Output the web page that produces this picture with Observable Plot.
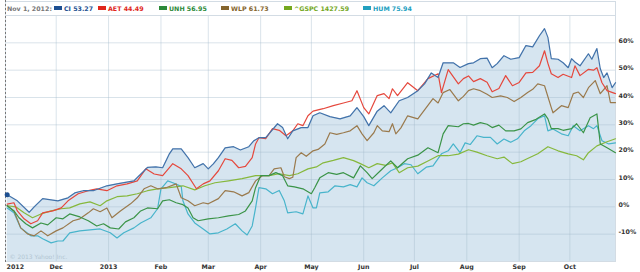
<!DOCTYPE html>
<html><head><meta charset="utf-8">
<script src="https://cdn.jsdelivr.net/npm/d3@7"></script>
<script src="https://cdn.jsdelivr.net/npm/@observablehq/plot@0.6"></script>
<style>
html,body{margin:0;padding:0;background:#fff;}
#wrap{position:relative;width:640px;height:272px;overflow:hidden;font-family:"DejaVu Sans",Verdana,sans-serif;}
#legend{position:absolute;top:3px;left:0;height:11px;width:615px;font-size:6.3px;font-weight:bold;line-height:11px;}
#legend span.item{position:absolute;top:0;white-space:nowrap;}
#legend i{display:inline-block;width:8px;height:4px;margin-right:2px;vertical-align:middle;position:relative;top:-1px;}
</style></head><body><div id="wrap"></div>
<script>
// ---- data ----
const startDate = "2012-11-01";
const endDay = 361;
const hoverLabel = "Nov 1, 2012:";
const seriesNames = ["CI", "AET", "UNH", "WLP", "^GSPC", "HUM"];
const legendValues = ["53.27", "44.49", "56.95", "61.73", "1427.59", "75.94"];
const lineColors = ["#4272aa", "#e5483d", "#3b9448", "#9a7a4d", "#86b83c", "#48b4cb"];
const legendColors = ["#1d4f91", "#e0261b", "#2b8a3a", "#85652e", "#75a81f", "#22a0bf"];
const xTickDates = ["2012-11-01","2012-12-01","2013-01-01","2013-02-01","2013-03-01","2013-04-01","2013-05-01","2013-06-01","2013-07-01","2013-08-01","2013-09-01","2013-10-01"];
const xTickLabels = ["2012","Dec","2013","Feb","Mar","Apr","May","Jun","Jul","Aug","Sep","Oct"];
const yTicks = [-10, 0, 10, 20, 30, 40, 50, 60];
const copyright = "© 2013 Yahoo! Inc.";

// [days since start, % change]
const CI = [[1,4.4],[7,2.2],[14,-2],[17,0],[22,3],[31,2.2],[37,3.3],[41,5.1],[46,5.9],[52,5.9],[60,7.7],[66,8.4],[76,9.5],[84,14.4],[89,14.6],[93,14.3],[97,19.4],[99,21.2],[104,21.2],[108,18],[112,14.3],[117,15.8],[120,13.9],[123,15.7],[126,18],[130,21.6],[135,22],[139,20.8],[144,22],[147,24.2],[150,25.3],[154,25.3],[161,30.4],[164,29],[167,24.9],[170,27.8],[175,29],[179,29],[182,33.3],[186,34.4],[192,33],[198,32.2],[204,33.3],[208,36.3],[212,33],[215,29.7],[220,35],[224,37],[228,34.4],[233,38.8],[238,40],[244,42.5],[248,45],[252,49],[256,47.3],[259,52.7],[265,52.7],[269,51],[274,52.4],[277,52.7],[281,54.2],[285,54.4],[288,50.9],[291,52.4],[295,55.3],[299,54],[304,54.6],[308,59],[312,58.5],[316,62.6],[319,65.2],[321,62],[323,54.2],[327,54],[330,52.7],[333,50.9],[335,54.2],[337,53],[340,51.6],[345,56],[347,54],[350,57.9],[352,50.5],[354,47.3],[356,49],[359,43.6],[361,45.4]];
const AET = [[1,1],[5,1.5],[7,-1.5],[11,-4.4],[15,-6.2],[19,-5.1],[22,-2.2],[28,-1.5],[33,-0.4],[37,2.2],[43,4.8],[49,5.9],[54,6.6],[60,5.9],[66,7.7],[72,8.4],[78,9.5],[83,13.9],[88,12],[93,11.4],[99,15.8],[104,13.9],[108,11.4],[113,6.6],[117,8.4],[121,9.5],[126,13.2],[130,17.6],[134,17],[138,14.3],[142,14.8],[146,18],[148,23],[150,25.3],[154,24.9],[158,28.6],[162,28],[166,26],[170,27.8],[173,30.4],[176,29.7],[179,33.3],[182,35],[188,35.9],[194,37],[200,38],[205,38.8],[208,42.5],[212,36.3],[215,34],[220,40.7],[224,41.4],[227,39.6],[229,43.2],[232,40.7],[238,45.4],[244,42.5],[250,46.9],[256,48.7],[258,41.8],[262,50.2],[268,45],[271,46.9],[274,47.9],[277,45.8],[281,46.9],[285,45.6],[288,42.1],[292,43.3],[296,48],[300,44.3],[304,45.5],[308,49],[312,49.2],[316,51.6],[319,57.1],[321,52.5],[323,48.7],[327,47.3],[330,48.5],[335,47.3],[337,51.6],[340,48],[345,50.3],[348,50],[350,50.9],[353,45.4],[356,42.5],[361,41.4]];
const UNH = [[1,0.4],[5,-1.5],[8,-4],[12,-6.2],[16,-7.7],[21,-5.9],[25,-6.6],[30,-4],[34,-4.4],[38,-2.6],[44,-3.7],[49,-5.1],[54,-7],[58,-6.2],[62,-7.7],[67,-8.1],[71,-5.5],[76,-4],[80,-1.5],[84,-0.4],[90,-0.7],[93,2.2],[97,2.6],[101,1.5],[105,0.8],[108,-0.4],[111,-4],[114,-5.1],[120,-4.4],[126,-4],[132,-3.3],[138,-2.8],[142,-1.5],[146,2.2],[148,7],[151,11.4],[156,11.4],[160,12.5],[164,11.4],[167,7.7],[171,7.3],[176,6.6],[181,4.8],[183,7],[186,10.6],[191,12.5],[196,11.9],[200,12.5],[206,10.6],[210,15],[214,12.5],[217,10.3],[222,13.3],[228,16.8],[232,14.3],[238,17.6],[244,18.9],[250,21.6],[256,19.8],[259,26.7],[262,29.7],[268,29.3],[271,30.4],[274,30.5],[277,29.9],[281,30.8],[285,30.2],[288,29],[292,29.9],[296,27.8],[301,27.8],[305,28.5],[309,30.8],[314,32],[319,34],[321,32.2],[323,28.6],[327,28.6],[330,28],[335,28.6],[338,30.4],[342,27.1],[346,32.6],[350,34],[352,23],[356,21.6],[361,19.8]];
const WLP = [[1,0.4],[5,-1.5],[9,-7.7],[13,-9.9],[17,-10.6],[21,-8.8],[25,-10.6],[30,-8.8],[34,-7.7],[40,-5.1],[44,-4.4],[49,-2.2],[52,-0.7],[56,-1.8],[60,-0.4],[63,-4],[68,-1.5],[74,1.1],[78,3.3],[82,6.6],[86,7.7],[90,6.6],[95,7],[101,8.4],[104,3.3],[108,2.2],[112,0.4],[117,1.5],[120,1.1],[126,3],[130,5.9],[135,5.5],[140,4],[144,5.2],[148,9.5],[152,11.4],[156,11.4],[159,13.9],[163,14.3],[165,11],[168,10.3],[170,10.8],[172,18],[175,19.8],[178,18.5],[182,20.5],[185,21],[189,23],[192,27.1],[196,26.5],[200,27.1],[204,27.8],[208,29.7],[211,26.7],[214,24.2],[218,27.1],[220,29.7],[223,27.8],[227,27.5],[229,30.4],[231,26.7],[234,28.9],[238,33.3],[244,32.2],[249,36.3],[253,39.6],[256,38],[259,41.8],[263,42.9],[268,38.8],[271,40.4],[274,42.5],[277,43.2],[281,42.5],[285,41.2],[288,40],[293,40.6],[297,40],[301,38.5],[305,40],[309,41.8],[312,43],[315,45],[319,44.3],[323,36.3],[324,34.4],[329,37],[333,36.3],[336,41.4],[339,42],[342,40],[345,43.6],[349,46.2],[352,41.4],[356,44.3],[358,38.1],[361,38.1]];
const GSPC = [[1,0.4],[6,0],[11,-2.2],[16,-4],[21,-2.6],[27,-1.5],[33,-0.7],[38,-0.4],[44,1.1],[50,1.8],[56,0.4],[60,2.2],[66,3.7],[72,4],[78,4.8],[84,5.9],[90,6.6],[97,7],[105,7.7],[112,6.2],[118,7.7],[124,8.8],[132,9.5],[140,10.3],[148,11.4],[156,11.4],[162,12.1],[168,11.4],[173,12.1],[179,13.9],[184,14.6],[188,16.1],[194,17],[200,18],[206,16.9],[210,15.8],[215,14.3],[220,15.8],[225,15.2],[229,16.1],[233,12.5],[238,14.3],[244,14.9],[250,16.8],[256,18.7],[262,18.7],[268,19.3],[274,20.9],[279,20],[285,18.7],[291,17.6],[295,18.2],[300,15.8],[305,16.5],[309,17.7],[315,19.4],[321,22],[327,20.5],[333,19.4],[338,18.7],[342,17.2],[345,19.8],[350,22.3],[356,23.8],[361,24.9]];
const HUM = [[1,-0.4],[5,-2.2],[9,-7.7],[15,-10.6],[19,-10.6],[22,-11.7],[27,-13.2],[31,-12.5],[34,-12.5],[38,-9.5],[44,-8.8],[50,-8.4],[56,-8.1],[62,-9.5],[66,-11.4],[70,-9.5],[76,-7.7],[80,-5.9],[86,-4],[90,-0.7],[92,6.6],[96,9.5],[99,8.8],[104,7.5],[105,2.2],[108,-2.6],[112,-5.9],[117,-8.1],[121,-9.9],[126,-9.5],[131,-8.1],[136,-6.2],[140,-8.8],[143,-10.3],[146,-7],[148,-0.4],[150,7],[154,6.6],[158,4.8],[162,6],[165,2.2],[167,-2.2],[172,-1.8],[176,-2.6],[179,4],[182,-0.4],[184,-0.4],[186,5.1],[191,5.5],[195,7.7],[200,7.3],[204,8.1],[208,7.3],[211,10.6],[214,8.8],[218,7.7],[223,10.6],[228,13.2],[232,14.3],[236,15.8],[240,15.4],[244,12.1],[249,14.5],[253,15],[258,19.4],[262,20.5],[265,23],[269,19.8],[272,23.4],[275,22.8],[279,26],[283,25.4],[287,25.4],[291,23],[295,24.8],[299,23.6],[303,24.9],[307,27.8],[311,29.7],[315,32.2],[319,33.3],[321,27.8],[324,28.5],[329,26.7],[333,26],[336,29.7],[340,27.8],[345,29.7],[348,28.6],[350,29.7],[353,24.2],[357,23],[361,23.4]];
const seriesData = [CI, AET, UNH, WLP, GSPC, HUM];

// ---- build ----
const parse = d3.utcParse("%Y-%m-%d");
const t0 = parse(startDate);
const rows = [];
seriesData.forEach((arr, i) => arr.forEach(([d, v]) => rows.push({name: seriesNames[i], date: d3.utcDay.offset(t0, d), value: v})));
const byName = n => rows.filter(r => r.name === n);
const tickDates = xTickDates.map(parse);
const labelOf = new Map(tickDates.map((d, i) => [+d, xTickLabels[i]]));
const drawOrder = ["HUM", "^GSPC", "WLP", "UNH", "AET", "CI"];
const colorOf = n => lineColors[seriesNames.indexOf(n)];
const yMin = -20, yMax = 70;

const plot = Plot.plot({
  width: 640, height: 272,
  marginTop: 15, marginBottom: 11, marginLeft: 5, marginRight: 25,
  style: {fontFamily: "'DejaVu Sans', Verdana, sans-serif", fontSize: "6.3px", fontWeight: "bold", color: "#333", background: "transparent"},
  x: {type: "utc", domain: [t0, d3.utcDay.offset(t0, endDay)], label: null},
  y: {domain: [yMin, yMax], label: null},
  marks: [
    Plot.areaY(byName("CI"), {x: "date", y1: yMin, y2: "value", fill: "#d6e5f0"}),
    Plot.gridX(tickDates.slice(1), {stroke: "#9fb8cb", strokeOpacity: 0.4}),
    Plot.gridY(yTicks, {stroke: "#9fb8cb", strokeOpacity: 0.4}),
    Plot.frame({stroke: "#d3dce4", insetTop: -14}),
    Plot.ruleY([yMax], {stroke: "#d3dce4"}),
    Plot.ruleX([t0], {stroke: "#777", strokeDasharray: "2,2", insetTop: -15, insetBottom: -1}),
    Plot.text([copyright], {frameAnchor: "bottom-left", dx: 4, dy: -3, fill: "#b3c5d3", fontSize: 6, fontWeight: "normal", textAnchor: "start", lineAnchor: "bottom"}),
    ...drawOrder.map(n => Plot.line(byName(n), {x: "date", y: "value", stroke: colorOf(n), strokeWidth: 1.2})),
    Plot.dot(byName("CI").slice(0, 1), {x: "date", y: "value", r: 2.5, fill: "#1d4f91"}),
    Plot.axisX(tickDates.slice(1), {tickSize: 0, tickPadding: 3, tickFormat: d => labelOf.get(+d), fill: "#333", label: null}),
    Plot.text(tickDates.slice(0, 1), {x: d => d, frameAnchor: "bottom", lineAnchor: "top", dy: 3, dx: 1, textAnchor: "start", text: d => labelOf.get(+d), fill: "#333"}),
    Plot.axisY(yTicks, {anchor: "right", tickSize: 0, tickPadding: 3, tickFormat: d => d + "%", dy: -2, fill: "#333", label: null})
  ]
});

const wrap = document.getElementById("wrap");
wrap.appendChild(plot);

// legend (HTML overlay in the header strip)
const legendLefts = [54, 98, 159, 221, 284, 363];
const legend = document.createElement("div");
legend.id = "legend";
const head = document.createElement("span");
head.className = "item";
head.style.left = "7px";
head.style.color = "#777";
head.textContent = hoverLabel;
legend.appendChild(head);
seriesNames.forEach((n, i) => {
  const s = document.createElement("span");
  s.className = "item";
  s.style.left = legendLefts[i] + "px";
  s.style.color = legendColors[i];
  const sw = document.createElement("i");
  sw.style.background = legendColors[i];
  s.appendChild(sw);
  s.appendChild(document.createTextNode(n + " " + legendValues[i]));
  legend.appendChild(s);
});
wrap.appendChild(legend);
</script></body></html>
